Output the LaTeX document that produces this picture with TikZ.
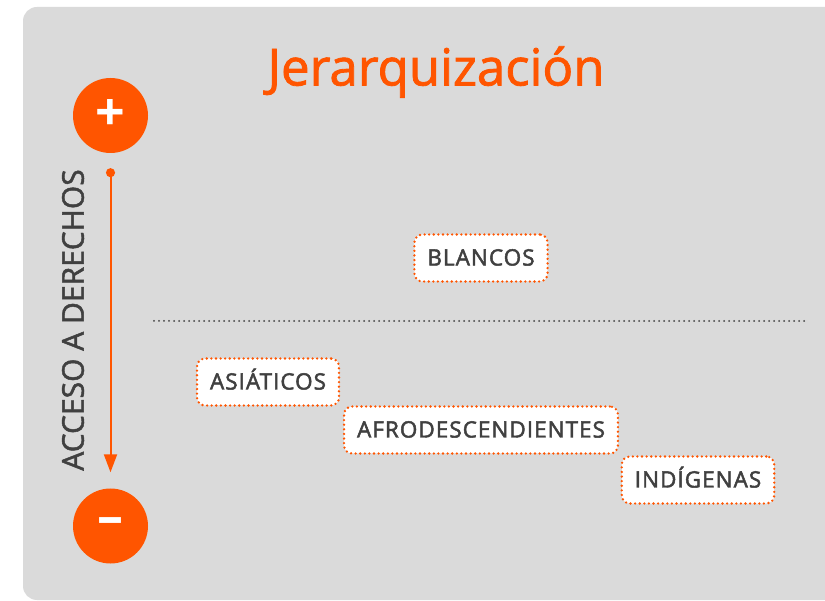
\documentclass[tikz,border=0pt]{standalone}
\usepackage{fontspec}
\setmainfont{Open Sans}
\newfontfamily\semib{Open Sans}[FakeBold=1.6]
\newfontfamily\semibw{Open Sans}[FakeBold=2.2,LetterSpace=4.5]
\usetikzlibrary{arrows.meta}
\definecolor{orng}{HTML}{FF5500}
\definecolor{bggray}{HTML}{DADADA}
\definecolor{txtgray}{HTML}{404040}
\tikzset{
  grupo/.style={draw=orng, fill=white, line width=2.6pt, line cap=round,
    dash pattern=on 0pt off 4.6pt, rounded corners=8pt, text=txtgray,
    font=\semibw\fontsize{22.5}{24}\selectfont, inner xsep=13pt,
    minimum height=47pt, text height=15pt, text depth=0pt},
  polo/.style={circle, fill=orng, minimum size=75pt, inner sep=0pt, text=white,
    font=\fontsize{52}{52}\selectfont\bfseries},
}
\begin{document}
\begin{tikzpicture}[x=1pt,y=-1pt]
\useasboundingbox (0,0) rectangle (825,601);
\fill[bggray, rounded corners=14pt] (23,7) rectangle (860,600);
\node[text=orng, font=\semib\fontsize{51}{56}\selectfont] (titulo) at (436,72) {Jerarquización};
\node[polo] (mas) at (110.5,115.5) {+};
\node[polo] (menos) at (110.5,526) {–};
\draw[orng, line width=2pt, {Circle[length=9pt]}-{Triangle[length=18pt,width=13pt]},
  shorten <=15pt, shorten >=16pt] (mas) -- (menos);
\node[rotate=90, text=txtgray, font=\semib\fontsize{30}{32}\selectfont] (eje) at (73,320) {ACCESO A DERECHOS};
\coordinate (l0) at (154,321);
\coordinate (l1) at (808,321);
\draw[txtgray, line width=2pt, line cap=round, dash pattern=on 0pt off 5pt] (l0) -- (l1);
\node[grupo] (blancos) at (481,258) {BLANCOS};
\node[grupo] (asiaticos) at (268,382) {ASIÁTICOS};
\node[grupo] (afro) at (481,430) {AFRODESCENDIENTES};
\node[grupo] (indigenas) at (698,480) {INDÍGENAS};
\end{tikzpicture}
\end{document}
